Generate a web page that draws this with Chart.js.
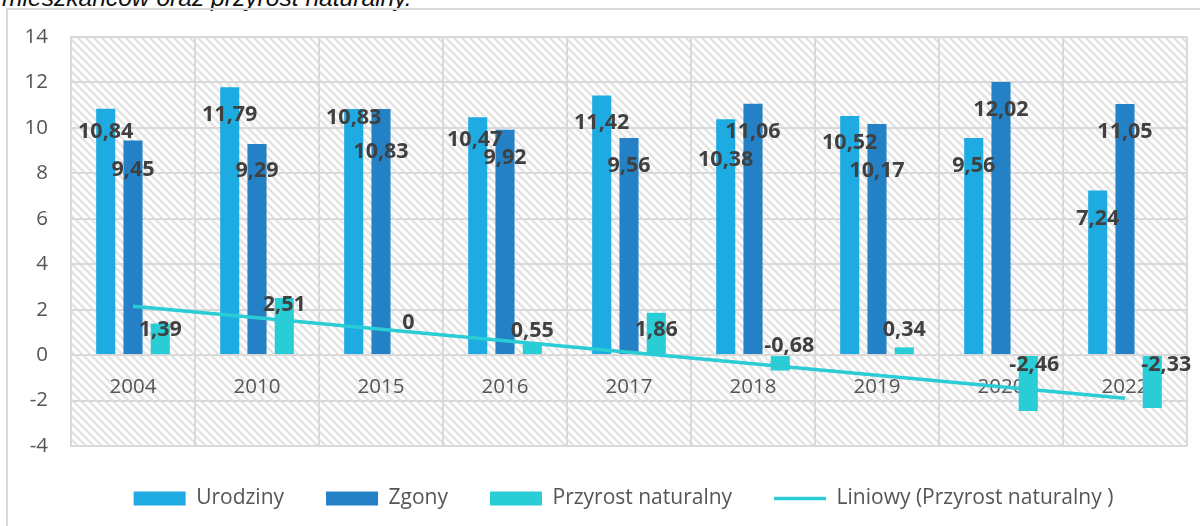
<!DOCTYPE html>
<html lang="pl">
<head>
<meta charset="utf-8">
<script src="https://cdn.jsdelivr.net/npm/chart.js@4.4.1/dist/chart.umd.min.js"></script>
<style>
html, body { margin:0; padding:0; width:1200px; height:526px; overflow:hidden; background:#fff; }
#title { position:absolute; left:2px; top:-14px; font:italic 24.6px/24px "Liberation Sans", Arial, sans-serif; color:#111; white-space:nowrap; }
#frame { position:absolute; left:6px; top:8px; width:2000px; height:1000px; border-left:2px solid #d9d9d9; border-top:2px solid #d9d9d9; }
#wrap { position:absolute; left:0; top:0; }
</style>
</head>
<body>
<div id="title">mieszkańców oraz przyrost naturalny.</div>
<div id="frame"></div>
<div id="wrap"><canvas id="myChart" width="1200" height="526"></canvas></div>
<script>
const years = ['2004', '2010', '2015', '2016', '2017', '2018', '2019', '2020', '2022'];
const urodziny = [10.84, 11.79, 10.83, 10.47, 11.42, 10.38, 10.52, 9.56, 7.24];
const zgony = [9.45, 9.29, 10.83, 9.92, 9.56, 11.06, 10.17, 12.02, 11.05];
const przyrost = [1.39, 2.51, 0, 0.55, 1.86, -0.68, 0.34, -2.46, -2.33];
// linia trendu - odczytane tylko końce z wykresu
const trend = [2.15, null, null, null, null, null, null, null, -1.9];
const yTicks = [-4, -2, 0, 2, 4, 6, 8, 10, 12, 14];

// przesunięcia etykiet (px) względem końca słupka, jak w oryginale
const labelDy = [
    [23, 28, 9, 23, 27, 41, 27, 28, 28],
    [29, 27, 43, 28, 28, 28, 47, 28, 28],
    [6, 7, -32, -12, 17, -25, -18, -46, -43]
];
const labelDx = [
    [0, 0, 0, -3, 0, 0, 0, 0, 0],
    [0, 0, 0, 0, 0, 0, 0, 0, 0],
    [0, 0, 0, 0, 0, 9, 0, 6, 14]
];

function makeHatch(){
    const c = document.createElement('canvas');
    c.width = 8; c.height = 8;
    const g = c.getContext('2d');
    g.fillStyle = '#fff';
    g.fillRect(0, 0, 8, 8);
    g.strokeStyle = '#e3e3e3';
    g.lineWidth = 2.5;
    g.beginPath();
    g.moveTo(-2, -2); g.lineTo(10, 10);
    g.moveTo(-2, 6); g.lineTo(2, 10);
    g.moveTo(6, -2); g.lineTo(10, 2);
    g.stroke();
    return c;
}

const hatchBg = {
    id: 'hatchBg',
    beforeDraw(chart){
        const {ctx, chartArea: a} = chart;
        ctx.save();
        ctx.fillStyle = ctx.createPattern(makeHatch(), 'repeat');
        ctx.fillRect(a.left, a.top, a.right - a.left, a.bottom - a.top);
        ctx.restore();
    }
};

// legenda w oryginale jest wyśrodkowana trochę bardziej w prawo
const legendShift = {
    id: 'legendShift',
    afterLayout(chart){
        chart.legend.left += 30;
        chart.legend.right += 30;
    }
};

const barLabels = {
    id: 'barLabels',
    afterDatasetsDraw(chart){
        const ctx = chart.ctx;
        ctx.save();
        ctx.font = 'bold 21.5px "Open Sans"';
        ctx.fillStyle = '#404040';
        ctx.textAlign = 'center';
        ctx.textBaseline = 'middle';
        for (let d = 0; d < 3; d++){
            const meta = chart.getDatasetMeta(d);
            const vals = chart.data.datasets[d].data;
            meta.data.forEach((bar, i) => {
                const txt = String(vals[i]).replace('.', ',');
                ctx.fillText(txt, bar.x + labelDx[d][i], bar.y + labelDy[d][i]);
            });
        }
        ctx.restore();
    }
};

Chart.defaults.font.family = '"Open Sans", sans-serif';

const myChart = new Chart('myChart', {
    type: 'bar',
    data: {
        labels: years,
        datasets: [
            {label: 'Urodziny', data: urodziny, backgroundColor: '#1DABE2', borderWidth: 0, pointStyle: 'rect', order: 1},
            {label: 'Zgony', data: zgony, backgroundColor: '#2581C5', borderWidth: 0, pointStyle: 'rect', order: 1},
            {label: 'Przyrost naturalny', data: przyrost, backgroundColor: '#29CDD6', borderWidth: 0, pointStyle: 'rect', order: 1},
            {
                type: 'line',
                label: 'Liniowy (Przyrost naturalny )',
                data: trend,
                spanGaps: true,
                borderColor: '#2ACCD6',
                backgroundColor: '#2ACCD6',
                borderWidth: 3.5,
                pointRadius: 0,
                pointStyle: 'line',
                tension: 0,
                order: 0
            }
        ]
    },
    options: {
        responsive: false,
        animation: false,
        devicePixelRatio: 1,
        layout: {padding: {top: 37, right: 13, bottom: 7, left: 0}},
        datasets: {bar: {categoryPercentage: 0.66, barPercentage: 0.7}},
        scales: {
            x: {
                position: {y: 0},
                offset: true,
                grid: {offset: true, color: '#d9d9d9', lineWidth: 2, drawTicks: false},
                border: {display: false},
                ticks: {color: '#555', font: {size: 20.5}, padding: 20}
            },
            y: {
                min: -4,
                max: 14,
                afterBuildTicks: s => { s.ticks = yTicks.map(v => ({value: v})); },
                afterFit: s => { s.width = 71; },
                grid: {color: '#d9d9d9', lineWidth: 2, drawTicks: false},
                border: {color: '#d9d9d9', width: 2},
                ticks: {color: '#555', font: {size: 20.5}, padding: 23}
            }
        },
        plugins: {
            legend: {
                position: 'bottom',
                labels: {
                    usePointStyle: true,
                    pointStyleWidth: 52,
                    boxHeight: 14,
                    padding: 42,
                    color: '#555',
                    font: {size: 21},
                    sort: (a, b) => a.datasetIndex - b.datasetIndex
                }
            },
            tooltip: {enabled: false}
        }
    },
    plugins: [hatchBg, legendShift, barLabels]
});
</script>
</body>
</html>
